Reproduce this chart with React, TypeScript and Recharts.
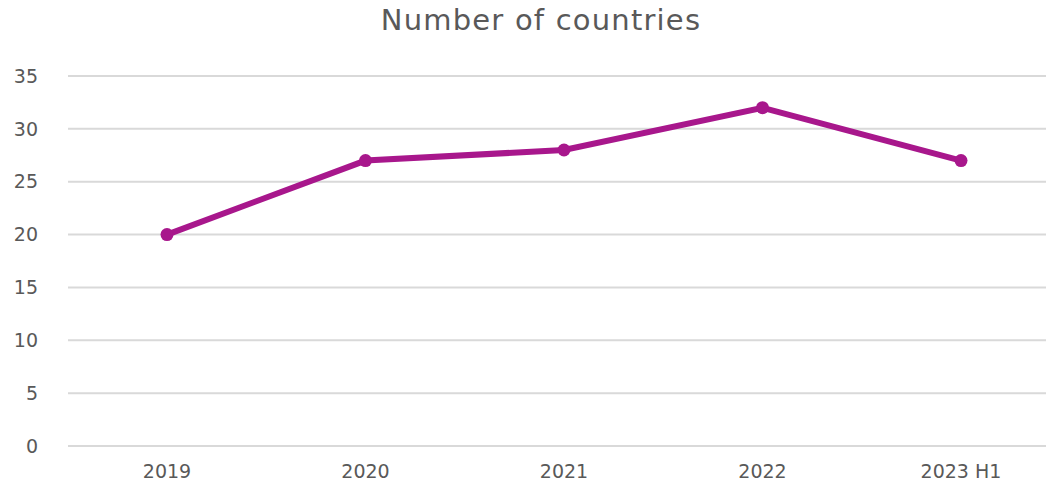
import { LineChart, Line, XAxis, YAxis, CartesianGrid } from "recharts";

const periods = ["2019", "2020", "2021", "2022", "2023 H1"];
const countries = [20, 27, 28, 32, 27];
const yTicks = [0, 5, 10, 15, 20, 25, 30, 35];

const data = periods.map((p, i) => ({ period: p, countries: countries[i] }));

const FONT = "'DejaVu Sans', sans-serif";
const TEXT = "#595959";

export default function App() {
  return (
    <div
      style={{
        position: "fixed",
        top: 0,
        left: 0,
        width: 1046,
        height: 487,
        overflow: "hidden",
        background: "#fff",
        fontFamily: FONT,
      }}
    >
      <div
        style={{
          position: "absolute",
          top: 3,
          left: 0,
          width: 1082,
          textAlign: "center",
          fontSize: 29,
          letterSpacing: 1.2,
          color: TEXT,
        }}
      >
        Number of countries
      </div>
      <LineChart
        width={1060}
        height={487}
        data={data}
        margin={{ top: 76, right: 0, bottom: 0, left: 0 }}
      >
        <CartesianGrid vertical={false} stroke="#d9d9d9" strokeWidth={2} />
        <XAxis
          dataKey="period"
          height={41}
          padding={{ left: 99, right: 99 }}
          axisLine={false}
          tickLine={false}
          tickSize={0}
          tickMargin={19}
          tick={{ fill: TEXT, fontSize: 19, fontFamily: FONT }}
        />
        <YAxis
          width={68}
          domain={[0, 35]}
          ticks={yTicks}
          axisLine={false}
          tickLine={false}
          tickSize={0}
          tickMargin={30}
          tick={{ fill: TEXT, fontSize: 19, fontFamily: FONT }}
        />
        <Line
          type="linear"
          dataKey="countries"
          stroke="#a8178c"
          strokeWidth={6}
          dot={{ r: 6.5, fill: "#a8178c", stroke: "#a8178c", strokeWidth: 0 }}
          isAnimationActive={false}
        />
      </LineChart>
    </div>
  );
}
